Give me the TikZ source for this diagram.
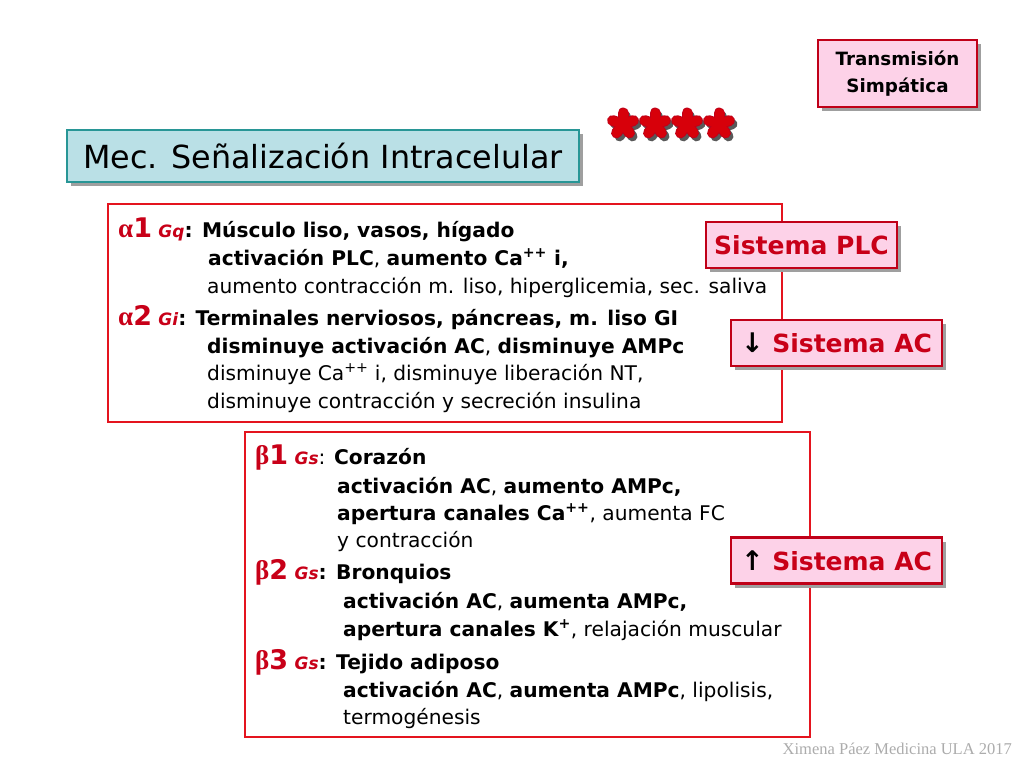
\documentclass[tikz,border=0pt]{standalone}
\usepackage{fontspec}
\setmainfont{DejaVu Sans}
\newfontfamily\grk{Liberation Serif}
\newfontfamily\footfont{Liberation Serif}
\newfontfamily\symf{DejaVu Sans}
\usetikzlibrary{shadows}

\definecolor{boxred}{RGB}{228,20,30}
\definecolor{darkred}{RGB}{192,0,24}
\definecolor{txtred}{RGB}{200,0,24}
\definecolor{starred}{RGB}{215,0,10}
\definecolor{pinkfill}{RGB}{253,210,232}
\definecolor{tealline}{RGB}{40,150,150}
\definecolor{tealfill}{RGB}{186,224,230}

\newcommand\recep[2]{{\color{txtred}\fontsize{27}{28}\selectfont\bfseries{\grk #1}#2}}
\newcommand\gprot[1]{{\color{txtred}\fontsize{17}{18}\selectfont\bfseries\itshape #1}}

\tikzset{
  tag/.style={draw=darkred, line width=2.5pt, fill=pinkfill,
    drop shadow={shadow xshift=4pt, shadow yshift=-4pt, fill=gray!75, opacity=1},
    inner sep=0pt, text=txtred, font=\fontsize{25}{26}\selectfont\bfseries},
  listbox/.style={draw=boxred, line width=2.8pt, inner sep=0pt},
  ln/.style={anchor=base west, inner sep=0pt, font=\fontsize{20.2}{22}\selectfont},
  petal/.style={line cap=round, line width=#1},
}

\begin{document}
\begin{tikzpicture}[x=1pt,y=-1pt]
  \fill[white] (0,0) rectangle (1024,768);
  \useasboundingbox (0,0) rectangle (1024,768);

  % header
  \node[draw=darkred, line width=2.5pt, fill=pinkfill, inner sep=0pt,
    drop shadow={shadow xshift=4pt, shadow yshift=-4pt, fill=gray!75, opacity=1},
    minimum width=159pt, minimum height=67pt, align=center,
    font=\fontsize{18.3}{27}\selectfont\bfseries] (trans) at (897.5,73.5) {Transmisión\\ Simpática};
  \node[draw=tealline, line width=2.5pt, fill=tealfill, inner sep=0pt,
    drop shadow={shadow xshift=4pt, shadow yshift=-4pt, fill=gray!75, opacity=1},
    minimum width=512pt, minimum height=52pt,
    font=\fontsize{31.8}{34}\selectfont] (title) at (323,156) {Mec. Señalización Intracelular};
  % asteriscos
  \foreach \i in {0,...,3} {
    \coordinate (ast\i) at (623+32*\i,124);
    \foreach \a in {-90,-18,54,126,198}
      \draw[petal=10pt, gray!70!black] ([shift={(3,3.5)}]ast\i) -- ++(\a:11);
  }
  \foreach \i in {0,...,3} {
    \foreach \a in {-90,-18,54,126,198}
      \draw[petal=11pt, darkred] (ast\i) -- ++(\a:11);
    \foreach \a in {-90,-18,54,126,198}
      \draw[petal=9pt, starred] (ast\i) -- ++(\a:11);
  }

  % alfa
  \node[listbox, minimum width=674pt, minimum height=218pt] (alfabox) at (445,313) {};
  \node[ln] (a1) at (118,237) {\recep{α}{1} \gprot{Gq}\textbf{: Músculo liso, vasos, hígado}};
  \node[ln] (a1b) at (208,265) {\textbf{activación PLC}, \textbf{aumento Ca\textsuperscript{++} i,}};
  \node[ln] (a1c) at (207,293) {aumento contracción m. liso, hiperglicemia, sec. saliva};
  \node[ln] (a2) at (118,325) {\recep{α}{2} \gprot{Gi}\textbf{: Terminales nerviosos, páncreas, m. liso GI}};
  \node[ln] (a2b) at (207,353) {\textbf{disminuye activación AC}, \textbf{disminuye AMPc}};
  \node[ln] (a2c) at (207,380) {disminuye Ca\textsuperscript{++} i, disminuye liberación NT,};
  \node[ln] (a2d) at (207,408) {disminuye contracción y secreción insulina};

  % beta
  \node[listbox, minimum width=565pt, minimum height=305pt] (betabox) at (527.5,584.5) {};
  \node[ln] (b1) at (255,464) {\recep{β}{1} \gprot{Gs}: \textbf{Corazón}};
  \node[ln] (b1b) at (337,493) {\textbf{activación AC}, \textbf{aumento AMPc,}};
  \node[ln] (b1c) at (337,520) {\textbf{apertura canales Ca\textsuperscript{++}}, aumenta FC};
  \node[ln] (b1d) at (337,547) {y contracción};
  \node[ln] (b2) at (255,579) {\recep{β}{2} \gprot{Gs}\textbf{: Bronquios}};
  \node[ln] (b2b) at (343,608) {\textbf{activación AC}, \textbf{aumenta AMPc,}};
  \node[ln] (b2c) at (343,636) {\textbf{apertura canales K\textsuperscript{+}}, relajación muscular};
  \node[ln] (b3) at (255,669) {\recep{β}{3} \gprot{Gs}\textbf{: Tejido adiposo}};
  \node[ln] (b3b) at (343,697) {\textbf{activación AC}, \textbf{aumenta AMPc}, lipolisis,};
  \node[ln] (b3c) at (343,724) {termogénesis};

  % sistemas
  \node[tag, minimum width=191pt, minimum height=46pt] (plc) at (801.5,245) {Sistema PLC};
  \node[tag, minimum width=211pt, minimum height=46pt] (acdown) at (836.5,343)
    {{\color{black}\symf\fontsize{27}{27}\selectfont ↓} Sistema AC};
  \node[tag, minimum width=211pt, minimum height=46pt] (acup) at (836.5,560.5)
    {{\color{black}\symf\fontsize{27}{27}\selectfont ↑} Sistema AC};

  \node[anchor=base east, inner sep=0pt, text=gray!65, font=\footfont\fontsize{16.5}{18}\selectfont]
    (autor) at (1012,754) {Ximena Páez Medicina ULA 2017};
\end{tikzpicture}
\end{document}
